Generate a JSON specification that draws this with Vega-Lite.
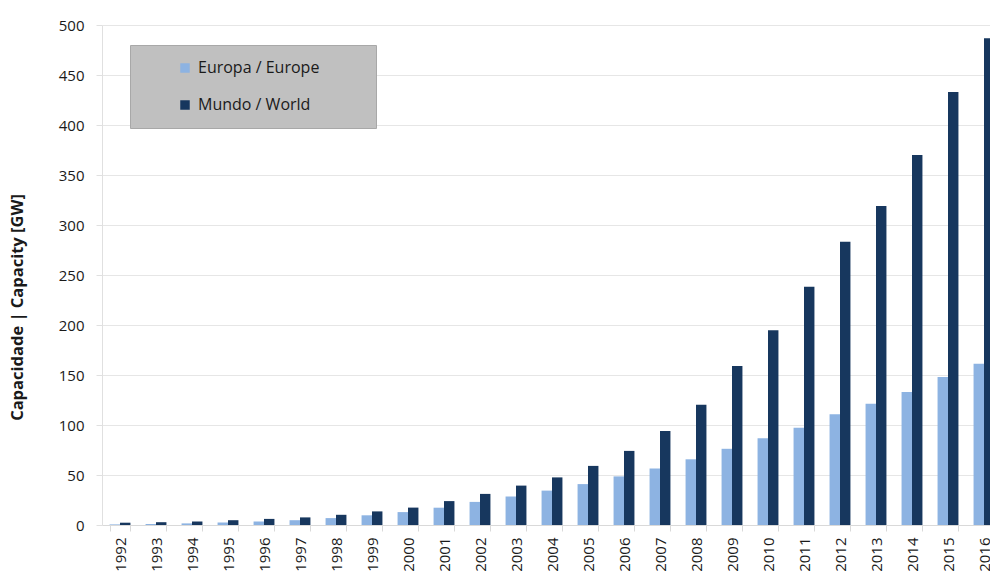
{
  "$schema": "https://vega.github.io/schema/vega-lite/v6.json",
  "autosize": "none",
  "width": 888,
  "height": 500,
  "padding": {"left": 102, "top": 25, "right": 0, "bottom": 52},
  "background": "white",
  "config": {
    "font": "Open Sans",
    "view": {"stroke": null},
    "axis": {"labelFont": "Open Sans", "labelColor": "#1a1a1a", "labelFontSize": 15, "titleFont": "Open Sans"}
  },
  "data": {
    "values": [
      {"year": "1992", "series": "Europa / Europe", "gw": 0.6},
      {"year": "1993", "series": "Europa / Europe", "gw": 1.0},
      {"year": "1994", "series": "Europa / Europe", "gw": 1.6},
      {"year": "1995", "series": "Europa / Europe", "gw": 2.5},
      {"year": "1996", "series": "Europa / Europe", "gw": 3.5},
      {"year": "1997", "series": "Europa / Europe", "gw": 4.8},
      {"year": "1998", "series": "Europa / Europe", "gw": 6.9},
      {"year": "1999", "series": "Europa / Europe", "gw": 9.7},
      {"year": "2000", "series": "Europa / Europe", "gw": 12.9},
      {"year": "2001", "series": "Europa / Europe", "gw": 17.3},
      {"year": "2002", "series": "Europa / Europe", "gw": 23.1},
      {"year": "2003", "series": "Europa / Europe", "gw": 28.5},
      {"year": "2004", "series": "Europa / Europe", "gw": 34.4},
      {"year": "2005", "series": "Europa / Europe", "gw": 40.9},
      {"year": "2006", "series": "Europa / Europe", "gw": 48.6},
      {"year": "2007", "series": "Europa / Europe", "gw": 56.5},
      {"year": "2008", "series": "Europa / Europe", "gw": 65.7},
      {"year": "2009", "series": "Europa / Europe", "gw": 76.2},
      {"year": "2010", "series": "Europa / Europe", "gw": 86.7},
      {"year": "2011", "series": "Europa / Europe", "gw": 97.2},
      {"year": "2012", "series": "Europa / Europe", "gw": 110.7},
      {"year": "2013", "series": "Europa / Europe", "gw": 121.2},
      {"year": "2014", "series": "Europa / Europe", "gw": 133.0},
      {"year": "2015", "series": "Europa / Europe", "gw": 148.0},
      {"year": "2016", "series": "Europa / Europe", "gw": 161.3},
      {"year": "1992", "series": "Mundo / World", "gw": 2.3},
      {"year": "1993", "series": "Mundo / World", "gw": 2.8},
      {"year": "1994", "series": "Mundo / World", "gw": 3.5},
      {"year": "1995", "series": "Mundo / World", "gw": 4.8},
      {"year": "1996", "series": "Mundo / World", "gw": 6.1},
      {"year": "1997", "series": "Mundo / World", "gw": 7.6},
      {"year": "1998", "series": "Mundo / World", "gw": 10.2},
      {"year": "1999", "series": "Mundo / World", "gw": 13.6},
      {"year": "2000", "series": "Mundo / World", "gw": 17.4},
      {"year": "2001", "series": "Mundo / World", "gw": 23.9},
      {"year": "2002", "series": "Mundo / World", "gw": 31.1},
      {"year": "2003", "series": "Mundo / World", "gw": 39.4},
      {"year": "2004", "series": "Mundo / World", "gw": 47.6},
      {"year": "2005", "series": "Mundo / World", "gw": 59.1},
      {"year": "2006", "series": "Mundo / World", "gw": 74.1},
      {"year": "2007", "series": "Mundo / World", "gw": 93.9},
      {"year": "2008", "series": "Mundo / World", "gw": 120.3},
      {"year": "2009", "series": "Mundo / World", "gw": 158.9},
      {"year": "2010", "series": "Mundo / World", "gw": 194.7},
      {"year": "2011", "series": "Mundo / World", "gw": 238.3},
      {"year": "2012", "series": "Mundo / World", "gw": 283.2},
      {"year": "2013", "series": "Mundo / World", "gw": 319.0},
      {"year": "2014", "series": "Mundo / World", "gw": 369.9},
      {"year": "2015", "series": "Mundo / World", "gw": 432.9},
      {"year": "2016", "series": "Mundo / World", "gw": 486.7}
    ]
  },
  "mark": {"type": "bar"},
  "encoding": {
    "x": {
      "field": "year",
      "type": "nominal",
      "scale": {"range": [0, 900], "paddingInner": 0.42, "paddingOuter": 0.21},
      "axis": {
        "title": null,
        "labelAngle": -90,
        "labelAlign": "right",
        "labelBaseline": "middle",
        "labelPadding": 6,
        "tickBand": "extent",
        "tickSize": 6,
        "tickColor": "#d9d9d9",
        "domainColor": "#d9d9d9",
        "grid": false
      }
    },
    "xOffset": {"field": "series", "type": "nominal", "sort": ["Europa / Europe", "Mundo / World"], "scale": {"paddingInner": 0}},
    "y": {
      "field": "gw",
      "type": "quantitative",
      "scale": {"domain": [0, 500], "nice": false},
      "axis": {
        "values": [0, 50, 100, 150, 200, 250, 300, 350, 400, 450, 500],
        "title": "Capacidade | Capacity [GW]",
        "titleFontSize": 16.5,
        "titleFontWeight": "bold",
        "titleColor": "#1a1a1a",
        "titlePadding": 33,
        "titleY": 282,
        "gridColor": "#e6e6e6",
        "tickColor": "#e0e0e0",
        "tickSize": 6,
        "domainColor": "#e0e0e0",
        "labelPadding": 12
      }
    },
    "color": {
      "field": "series",
      "type": "nominal",
      "sort": ["Europa / Europe", "Mundo / World"],
      "scale": {"range": ["#8db3e2", "#17375e"]},
      "legend": {
        "title": null,
        "orient": "none",
        "legendX": 28,
        "legendY": 20,
        "fillColor": "#c0c0c0",
        "strokeColor": "#a8a8a8",
        "padding": 15,
        "symbolType": "square",
        "symbolSize": 90,
        "symbolOffset": 32,
        "labelOffset": 5,
        "labelFont": "Open Sans",
        "labelFontSize": 16,
        "labelColor": "#1a1a1a",
        "labelLimit": 300,
        "rowPadding": 21,
        "labelExpr": "datum.label + '\u00a0\u00a0\u00a0\u00a0\u00a0\u00a0\u00a0\u00a0\u00a0\u00a0\u200b'"
      }
    }
  }
}
